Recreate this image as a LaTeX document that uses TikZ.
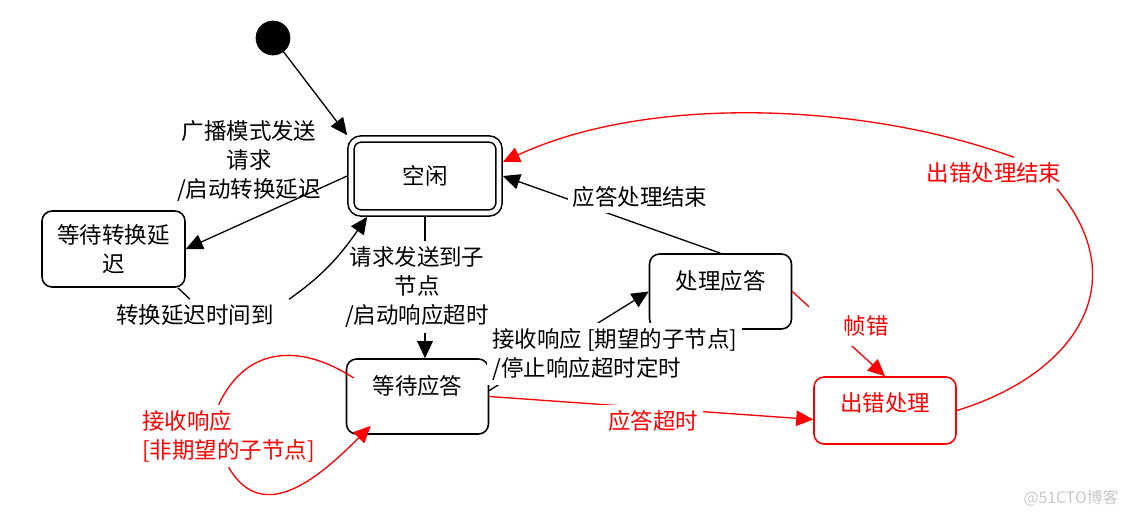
\documentclass[tikz,border=0pt]{standalone}
\usepackage{fontspec}
\setmainfont{Noto Sans CJK SC}
\usepackage{tikz}
\usetikzlibrary{arrows.meta, positioning, calc}

\begin{document}
\begin{tikzpicture}[x=0.02cm, y=-0.02cm,
    font=\fontsize{12.8}{16.5}\selectfont,
    >={Triangle[length=0.34cm,width=0.31cm]},
    stbox/.style={draw, line width=0.9pt, rounded corners=0.2cm, minimum width=2.84cm, minimum height=1.5cm},
    lbl/.style={inner sep=0.1cm, align=center},
    cover/.style={lbl, fill=white},
    conn/.style={line width=0.75pt}]
\useasboundingbox (0,0) rectangle (1124,514);

\node[draw, circle, fill=black, minimum size=0.68cm, inner sep=0pt] (init) at (273,38) {};
\node[stbox, double, double distance=2.6pt, minimum width=2.96cm, minimum height=1.48cm, outer sep=2.2pt] (idle) at (425,176) {空闲};
\node[stbox, minimum width=2.86cm, minimum height=1.52cm, align=center] (wconv) at (113.5,249) {等待转换延\\迟};
\node[stbox, text depth=0.48cm] (proc) at (720.5,291.5) {处理应答};
\node[stbox, text depth=0.48cm] (wait) at (417.5,396.5) {等待应答};
\node[stbox, red, minimum height=1.34cm, text depth=0.34cm] (err) at (885,410.5) {出错处理};

\node[lbl] (lbcast) at (249,161.5) {广播模式发送\\请求\\/启动转换延迟};
\node[lbl] (lconv) at (195,315) {转换延迟时间到};
\node[lbl] (lreq) at (417,287) {请求发送到子\\节点\\/启动响应超时};
\node[lbl, text=red] (lend) at (994,173) {出错处理结束};
\node[lbl, text=red, align=left, anchor=west] (lnoexp) at (137,436) {接收响应\\{[}非期望的子节点]};

\draw[conn, ->] (init) -- (idle.north west);
\draw[conn, ->] (idle.west) -- (wconv.east);
\draw[conn] ([xshift=-0.16cm]wconv.south east) -- ([xshift=-0.1cm]lconv.north);
\draw[conn, ->] ([xshift=0.2cm]lconv.north east) to[out=35, in=235] ([xshift=0.4cm]idle.south west);
\draw[conn] (idle.south) -- (idle.south |- lreq.north);
\draw[conn, ->] (idle.south |- lreq.south) -- (idle.south |- wait.north);
\draw[conn, ->] ([yshift=0.12cm]wait.east) -- (proc.west);
\draw[conn, ->] (proc.north) -- (idle.east);
\draw[conn, red, ->] (proc.east) -- (err.north);
\draw[conn, red, ->] (wait.east) -- ([yshift=-0.18cm]err.west);
\draw[conn, red] (err.east) to[out=17, in=-50, looseness=1.3] ([xshift=-0.2cm]lend.south east);
\draw[conn, red, ->] ([xshift=0.4cm]lend.north) to[out=160, in=25, looseness=0.8] ([yshift=0.28cm]idle.east);
\draw[conn, red] ([shift={(0.16cm,0.37cm)}]wait.west) to[out=147, in=65, looseness=1.2] ([xshift=-0.2cm]lnoexp.north);
\draw[conn, red, ->] (lnoexp.south) to[out=-60, in=225, looseness=1.2] ([shift={(0.5cm,0.18cm)}]wait.south west);

\node[cover, align=left, anchor=west] (lexp) at (487,354) {接收响应 [期望的子节点]\\/停止响应超时定时};
\node[cover] (ldone) at (640,197) {应答处理结束};
\node[cover, text=red, minimum width=2.3cm, minimum height=0.8cm] (lframe) at (866,326) {帧错};
\node[cover, text=red] (ltime) at (653,421) {应答超时};
\node[text=black!22, font=\fontsize{9}{11}\selectfont] (wmark) at (1071,498) {@51CTO博客};
\end{tikzpicture}
\end{document}
